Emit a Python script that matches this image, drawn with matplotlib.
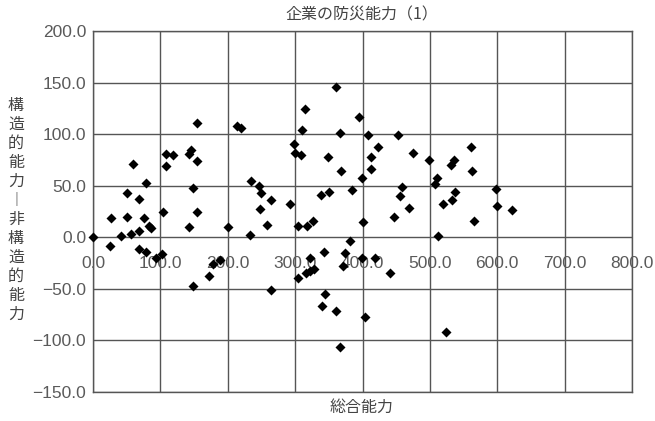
import matplotlib
matplotlib.use("Agg")
import matplotlib.pyplot as plt

plt.rcParams['font.family'] = ['Noto Sans CJK JP', 'DejaVu Sans']

title = "企業の防災能力（1）"
xlabel = "総合能力"
ylabel = "構造的能力︱非構造的能力"

x_ticks = [0, 100, 200, 300, 400, 500, 600, 700, 800]
y_ticks = [-150, -100, -50, 0, 50, 100, 150, 200]

total_ability = [
    0, 25, 27, 42, 51, 51, 57, 60, 68, 69, 69, 76, 78, 78, 83, 86, 93, 103, 104, 108,
    109, 118, 142, 142, 146, 148, 149, 154, 155, 155, 172, 178, 189, 200, 214, 219, 233, 234, 247, 249,
    248, 258, 264, 264, 292, 298, 300, 309, 310, 314, 305, 317, 304, 316, 322, 328, 322, 326, 338, 343,
    344, 340, 349, 351, 360, 360, 366, 367, 368, 371, 374, 381, 384, 395, 399, 399, 400, 403, 408, 412,
    413, 419, 423, 441, 447, 452, 455, 458, 469, 475, 499, 507, 511, 512, 519, 524, 533, 532, 536, 538,
    561, 563, 565, 598, 599, 622,
]
struct_diff = [
    0, -8, 19, 1, 20, 43, 3, 71, 37, 6, -11, 19, -14, 53, 11, 9, -20, -16, 25, 69,
    81, 80, 10, 81, 85, 48, -47, 111, 74, 25, -38, -26, -22, 10, 108, 106, 2, 55, 50, 43,
    27, 12, 36, -51, 32, 90, 82, 80, 104, 124, 11, 11, -39, -35, -33, -31, -20, 16, 41, -14,
    -55, -67, 78, 44, 146, -71, -106, 101, 64, -28, -15, -4, 46, 117, 57, -20, 15, -77, 99, 78,
    66, -20, 88, -35, 20, 99, 40, 49, 28, 82, 75, 52, 57, 1, 32, -92, 36, 70, 75, 44,
    88, 64, 16, 47, 30, 26,
]

fig = plt.figure(figsize=(6.55, 4.21), dpi=100)
ax = fig.add_axes([93/655, 1-392/421, (632-93)/655, (392-31)/421])
ax.set_xlim(0, 800)
ax.set_ylim(-150, 200)

grid_c = '#555555'
for s in ax.spines.values():
    s.set_color(grid_c)
    s.set_linewidth(1.0)
ax.set_xticks(x_ticks)
ax.set_yticks(y_ticks)
ax.grid(True, color=grid_c, linewidth=1.0)
ax.set_axisbelow(True)
ax.tick_params(length=0)
ax.set_xticklabels([])
ax.set_yticklabels([f"{v:.1f}".replace('-', '−') for v in y_ticks],
                   fontfamily='Liberation Sans', fontsize=12.5, color='#5a5a5a')
ax.tick_params(axis='y', pad=5)

for xv in x_ticks:
    ax.text(xv, -25, f"{xv:.1f}", ha='center', va='center',
            fontfamily='Liberation Sans', fontsize=12.5, color='#5a5a5a')

ax.scatter(total_ability, struct_diff, marker='D', s=26, color='black', zorder=3,
           linewidths=0, clip_on=False)

fig.text(362/655, 1-15/421, title, ha='center', va='center', fontsize=11.5, color='#444444')
fig.text(362/655, 1-407/421, xlabel, ha='center', va='center', fontsize=11.5, color='#444444')
fig.text(16/655, 1-210/421, "\n".join(ylabel), ha='center', va='center', fontsize=11.5,
         color='#444444', linespacing=1.15)

fig.savefig("out.png", dpi=100, facecolor='white')
